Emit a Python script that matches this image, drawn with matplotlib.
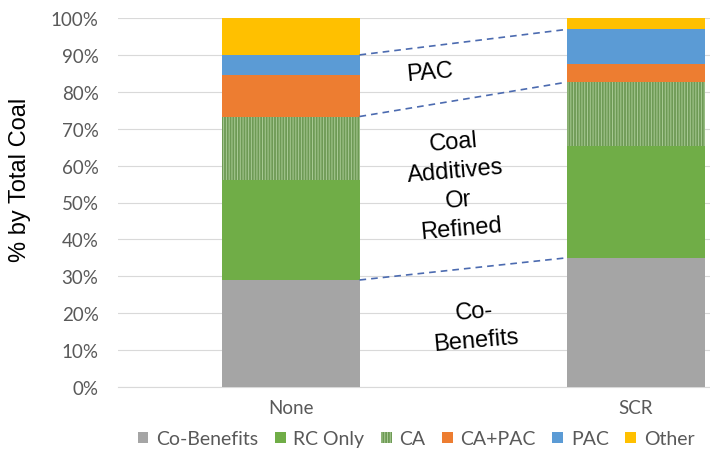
import matplotlib
matplotlib.use("Agg")
import matplotlib.pyplot as plt
import numpy as np

categories = ["None", "SCR"]
series_names = ["Co-Benefits", "RC Only", "CA", "CA+PAC", "PAC", "Other"]
co_benefits = [29.0, 35.0]
rc_only = [27.0, 30.2]
ca = [17.3, 17.4]
ca_pac = [11.2, 5.0]
pac = [5.5, 9.3]
other = [10.0, 3.1]
yticks = [0, 10, 20, 30, 40, 50, 60, 70, 80, 90, 100]

series = [co_benefits, rc_only, ca, ca_pac, pac, other]
colors = ["#A5A5A5", "#70AD47", "#6E9A55", "#ED7D31", "#5B9BD5", "#FFC000"]

plt.rcParams["hatch.linewidth"] = 0.7
tick_font = "Lato"
tick_color = "#595959"

W, H = 710, 452
fig = plt.figure(figsize=(W / 100, H / 100), dpi=100)
# plot area runs past the right edge of the canvas
ax = fig.add_axes([118 / W, 64 / H, 690 / W, 369 / H])

x = np.arange(len(categories))
width = 0.4
bottom = np.zeros(len(categories))
for name, vals, col in zip(series_names, series, colors):
    vals = np.array(vals)
    if name == "CA":
        ax.bar(x, vals, width, bottom=bottom, color=col, edgecolor="#A9CB95",
               hatch="||||||", linewidth=0, label=name, zorder=3)
    else:
        ax.bar(x, vals, width, bottom=bottom, color=col, linewidth=0,
               label=name, zorder=3)
    bottom = bottom + vals

# dashed connectors between matching layer boundaries
cum = np.cumsum(np.array(series), axis=0)
for level in (0, 2, 4):
    ax.plot([x[0] + width / 2, x[1] - width / 2], [cum[level][0], cum[level][1]],
            ls=(0, (4, 3)), color="#4C6BB0", lw=1.2, zorder=4)

ax.set_xlim(-0.5, 1.5)
ax.set_ylim(0, 100)
ax.set_yticks(yticks)
ax.set_yticklabels([f"{t}%" for t in yticks])
ax.set_xticks(x)
ax.set_xticklabels(categories)
ax.tick_params(axis="both", length=0, colors=tick_color, labelsize=13.5)
ax.tick_params(axis="y", pad=14)
ax.tick_params(axis="x", pad=9)
for lab in ax.get_xticklabels() + ax.get_yticklabels():
    lab.set_fontfamily(tick_font)
ax.grid(axis="y", color="#D9D9D9", lw=0.8, zorder=0)
for s in ["top", "right", "left"]:
    ax.spines[s].set_visible(False)
ax.spines["bottom"].set_color("#D9D9D9")

txt_kw = dict(ha="center", va="center", rotation=5, rotation_mode="anchor",
              fontsize=17, family="Liberation Sans", color="black",
              multialignment="center", linespacing=1.4, zorder=5)
ax.text(0.404, 85.4, "PAC", **txt_kw)
ax.text(0.483, 54.7, "Coal\nAdditives\nOr\nRefined", **txt_kw)
ax.text(0.535, 16.5, "Co-\nBenefits", **txt_kw)

fig.text(20 / W, (H - 180) / H, "% by Total Coal", rotation=90, ha="center",
         va="center", fontsize=17, family="Liberation Sans", color="black")

handles, labels = ax.get_legend_handles_labels()
leg = fig.legend(handles, labels, loc="center", bbox_to_anchor=(416 / W, 12 / H),
                 ncol=6, frameon=False, handlelength=0.55, handleheight=0.55,
                 handletextpad=0.4, columnspacing=0.85,
                 prop={"family": tick_font, "size": 14})
for t in leg.get_texts():
    t.set_color(tick_color)

fig.savefig("out.png", dpi=100)
